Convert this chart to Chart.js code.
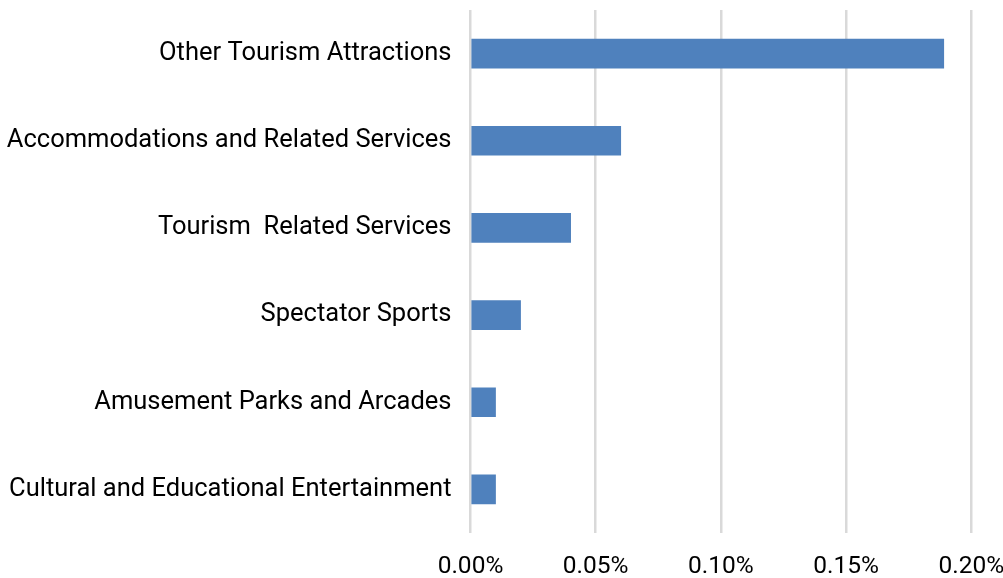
<!DOCTYPE html>
<html>
<head>
<meta charset="utf-8">
<script src="https://cdn.jsdelivr.net/npm/chart.js@4/dist/chart.umd.min.js"></script>
<style>
  html, body { margin: 0; padding: 0; background: #ffffff; }
  #wrap { width: 1003px; height: 578px; position: relative; }
</style>
</head>
<body>
<div id="wrap"><canvas id="c"></canvas></div>
<script>
// Share of employment by tourism segment (percent)
const categories = [
  'Other Tourism Attractions',
  'Accommodations and Related Services',
  'Tourism  Related Services',
  'Spectator Sports',
  'Amusement Parks and Arcades',
  'Cultural and Educational Entertainment'
];
const shareValues = [0.189, 0.06, 0.04, 0.02, 0.01, 0.01];
const xTickMin = 0;
const xTickMax = 0.20;
const xTickStep = 0.05;

const categoryFont = { family: 'Roboto, "Open Sans", sans-serif', size: 25.5 };
const valueFont = { family: 'Roboto, "Open Sans", sans-serif', size: 24.5 };

new Chart(document.getElementById('c'), {
  type: 'bar',
  data: {
    labels: categories,
    datasets: [{
      data: shareValues,
      backgroundColor: '#4f81bd',
      borderWidth: 0,
      barThickness: 29
    }]
  },
  options: {
    indexAxis: 'y',
    responsive: true,
    maintainAspectRatio: false,
    animation: false,
    layout: { padding: { top: 10, right: 31.7, bottom: 0, left: 0 } },
    plugins: { legend: { display: false }, tooltip: { enabled: false } },
    scales: {
      x: {
        min: xTickMin,
        max: xTickMax,
        ticks: {
          stepSize: xTickStep,
          color: '#000000',
          font: valueFont,
          padding: 19,
          maxRotation: 0,
          callback: v => v.toFixed(2) + '%'
        },
        grid: { color: '#d9d9d9', lineWidth: 2.5, drawTicks: false },
        border: { display: false },
        afterFit: s => { s.height = 45; s.paddingLeft = 0; s.paddingRight = 0; }
      },
      y: {
        ticks: { color: '#000000', font: categoryFont, padding: 19 },
        grid: { display: false, drawTicks: false },
        border: { display: false },
        afterFit: s => { s.width = 470.5; s.paddingTop = 0; s.paddingBottom = 0; }
      }
    }
  }
});
</script>
</body>
</html>
